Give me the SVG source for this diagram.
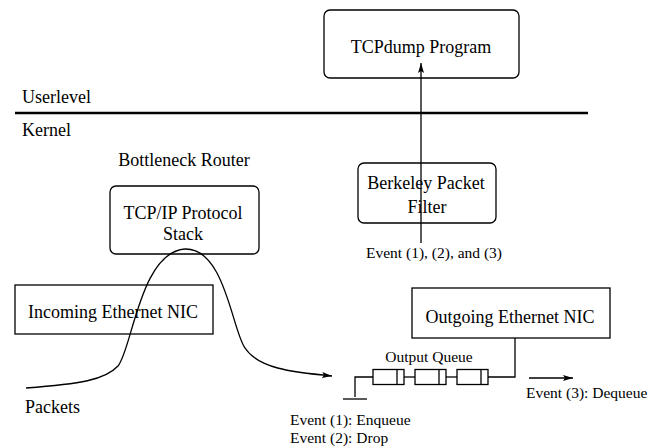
<svg xmlns="http://www.w3.org/2000/svg" width="661" height="448" viewBox="0 0 661 448">
<defs>
<marker id="arr" viewBox="0 0 10 6" refX="10" refY="3" markerWidth="10" markerHeight="6" markerUnits="userSpaceOnUse" orient="auto">
<path d="M0,0 L10,3 L0,6 L2,3 z" fill="#000"/>
</marker>
<style>
text{font-family:"Liberation Serif","Times New Roman",serif;fill:#000}
.l{font-size:18px}
.s{font-size:15.5px}
.m{text-anchor:middle}
.box{fill:#fff;stroke:#000;stroke-width:1.3}
.ln{fill:none;stroke:#000;stroke-width:1.3}
</style>
</defs>
<rect width="661" height="448" fill="#fff"/>
<g id="labels">
<text class="l" x="22" y="103">Userlevel</text>
<text class="l" x="22" y="136">Kernel</text>
<text class="l m" x="184" y="166">Bottleneck Router</text>
<text class="l" x="25" y="413">Packets</text>
</g>
<line x1="15" y1="113" x2="588" y2="113" stroke="#000" stroke-width="2.5"/>
<g id="tcpdump">
<rect class="box" x="324" y="10" width="195" height="68" rx="6"/>
<text class="l m" x="421" y="53">TCPdump Program</text>
</g>
<g id="bpf">
<rect class="box" x="358" y="163" width="138" height="60" rx="6"/>
<text class="l m" x="426" y="189">Berkeley Packet</text>
<text class="l m" x="427" y="213">Filter</text>
</g>
<g id="tcpip">
<rect class="box" x="110" y="186" width="149" height="68" rx="6"/>
<text class="l m" x="183" y="219">TCP/IP Protocol</text>
<text class="l m" x="183" y="240">Stack</text>
</g>
<g id="incoming">
<rect class="box" x="15" y="285" width="198" height="49"/>
<text class="l m" x="113" y="318">Incoming Ethernet NIC</text>
</g>
<g id="outgoing">
<rect class="box" x="412" y="288" width="198" height="50"/>
<text class="l m" x="510" y="323">Outgoing Ethernet NIC</text>
</g>
<g id="queue">
<text class="s m" x="429" y="362">Output Queue</text>
<rect class="box" x="373" y="369.5" width="31" height="15"/>
<line class="ln" x1="397" y1="369.5" x2="397" y2="384.5"/>
<rect class="box" x="415" y="369.5" width="31" height="15"/>
<line class="ln" x1="439" y1="369.5" x2="439" y2="384.5"/>
<rect class="box" x="457" y="369.5" width="31" height="15"/>
<line class="ln" x1="481" y1="369.5" x2="481" y2="384.5"/>
</g>
<g id="connectors">
<line class="ln" x1="421" y1="243" x2="421" y2="63" marker-end="url(#arr)"/>
<path class="ln" d="M26,388 C80,384 105,380 118,366 C132,350 140,252 185,249 C225,248 232,330 245,348 C258,368 290,372 332,376" marker-end="url(#arr)"/>
<polyline class="ln" points="355,397 355,377 373,377"/>
<line class="ln" x1="343" y1="399" x2="367" y2="399"/>
<line class="ln" x1="404" y1="377" x2="415" y2="377"/>
<line class="ln" x1="446" y1="377" x2="457" y2="377"/>
<polyline class="ln" points="488,377 515,377 515,338"/>
<line class="ln" x1="529" y1="378" x2="573" y2="378" marker-end="url(#arr)"/>
</g>
<g id="events">
<text class="s m" x="434" y="258">Event (1), (2), and (3)</text>
<text class="s" x="526" y="398">Event (3): Dequeue</text>
<text class="s" x="290" y="425">Event (1): Enqueue</text>
<text class="s" x="290" y="443">Event (2): Drop</text>
</g>
</svg>
